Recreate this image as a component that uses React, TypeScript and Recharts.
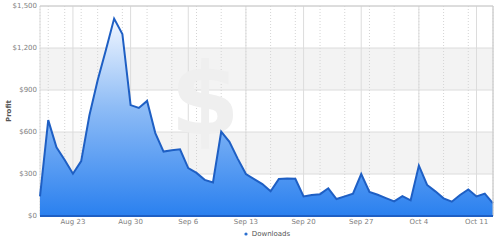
import React from "react";
import {
  ComposedChart,
  Area,
  XAxis,
  YAxis,
  CartesianGrid,
  Legend,
  ReferenceLine,
  Customized,
} from "recharts";

const dayLabels: string[] = [
  "Aug 19", "Aug 20", "Aug 21", "Aug 22", "Aug 23", "Aug 24", "Aug 25", "Aug 26", "Aug 27", "Aug 28",
  "Aug 29", "Aug 30", "Aug 31", "Sep 1", "Sep 2", "Sep 3", "Sep 4", "Sep 5", "Sep 6", "Sep 7",
  "Sep 8", "Sep 9", "Sep 10", "Sep 11", "Sep 12", "Sep 13", "Sep 14", "Sep 15", "Sep 16", "Sep 17",
  "Sep 18", "Sep 19", "Sep 20", "Sep 21", "Sep 22", "Sep 23", "Sep 24", "Sep 25", "Sep 26", "Sep 27",
  "Sep 28", "Sep 29", "Sep 30", "Oct 1", "Oct 2", "Oct 3", "Oct 4", "Oct 5", "Oct 6", "Oct 7",
  "Oct 8", "Oct 9", "Oct 10", "Oct 11", "Oct 12", "Oct 13",
];

const downloads: number[] = [
  140, 685, 490, 400, 302, 392, 720, 970, 1185, 1410,
  1300, 792, 772, 822, 592, 460, 470, 476, 342, 308,
  258, 240, 602, 530, 410, 300, 264, 228, 176, 265,
  268, 266, 140, 150, 156, 198, 121, 140, 160, 300,
  172, 152, 128, 104, 142, 112, 360, 222, 176, 126,
  102, 150, 190, 140, 160, 90,
];

const majorTickLabels: string[] = ["Aug 23", "Aug 30", "Sep 6", "Sep 13", "Sep 20", "Sep 27", "Oct 4", "Oct 11"];
const yTicks: number[] = [0, 300, 600, 900, 1200, 1500];

const data = dayLabels.map((label, i) => ({ i, label, downloads: downloads[i] }));
const majorTicks = majorTickLabels.map((l) => dayLabels.indexOf(l));
const allTicks = dayLabels.map((_, i) => i);
const lastIndex = dayLabels.length - 1;

const FONT = "'DejaVu Sans', Verdana, sans-serif";

const fmtY = (v: number) => "$" + v.toLocaleString("en-US");

const Watermark = () => (
  <text
    x={205}
    y={134}
    textAnchor="middle"
    fontFamily={FONT}
    fontWeight="bold"
    fontSize={100}
    fill="#efefef"
  >
    $
  </text>
);

const LegendContent = () => (
  <div
    style={{
      display: "flex",
      justifyContent: "center",
      alignItems: "center",
      fontFamily: FONT,
      fontSize: 7,
      color: "#555",
      paddingLeft: 40,
      height: 12,
    }}
  >
    <svg width={6} height={6} style={{ marginRight: 3 }}>
      <circle cx={3} cy={3} r={1.6} fill="#2a6fd0" />
    </svg>
    <span>Downloads</span>
  </div>
);

export default function App() {
  return (
    <div style={{ position: "absolute", left: 0, top: 0, width: 500, height: 241, background: "#fff" }}>
      <ComposedChart
        width={500}
        height={241}
        data={data}
        margin={{ top: 6, right: 7, bottom: 1, left: 0 }}
      >
        <defs>
          <linearGradient id="areaFill" x1="0" y1="0" x2="0" y2="1">
            <stop offset="0%" stopColor="#f2f7ff" />
            <stop offset="45%" stopColor="#8ebcf6" />
            <stop offset="100%" stopColor="#2a80ef" />
          </linearGradient>
        </defs>
        <CartesianGrid
          horizontal={true}
          vertical={false}
          stroke="#dcdcdc"
          fill="none"
          horizontalFill={["#ffffff", "#f3f3f3"]}
          fillOpacity={1}
        />
        <Customized component={Watermark} />
        <CartesianGrid
          xAxisId="minor"
          horizontal={false}
          vertical={true}
          stroke="#d4d4d4"
          strokeDasharray="1 2"
        />
        <CartesianGrid horizontal={false} vertical={true} stroke="#dcdcdc" />
        <XAxis
          xAxisId="minor"
          dataKey="i"
          type="number"
          domain={[0, lastIndex]}
          ticks={allTicks}
          hide
        />
        <XAxis
          dataKey="i"
          type="number"
          domain={[0, lastIndex]}
          ticks={majorTicks}
          tickFormatter={(v: number) => dayLabels[v]}
          tick={{ fontSize: 7, fill: "#808080", fontFamily: FONT }}
          tickLine={false}
          tickSize={0}
          axisLine={{ stroke: "#1e5fc4", strokeWidth: 2 }}
          height={12}
          tickMargin={3}
          interval={0}
        />
        <YAxis
          type="number"
          domain={[0, 1500]}
          ticks={yTicks}
          tickFormatter={fmtY}
          tick={{ fontSize: 7, fill: "#808080", fontFamily: FONT }}
          tickLine={false}
          tickSize={0}
          axisLine={false}
          width={40}
          tickMargin={3}
          interval={0}
          label={{
            value: "Profit",
            angle: -90,
            position: "insideLeft",
            offset: 9,
            style: { fontSize: 7, fill: "#555", fontFamily: FONT, fontWeight: "bold", textAnchor: "middle" },
          }}
        />
        <ReferenceLine x={lastIndex} stroke="#cccccc" />
        <ReferenceLine y={1500} stroke="#cccccc" />
        <Area
          type="linear"
          dataKey="downloads"
          name="Downloads"
          stroke="#1e5fc4"
          strokeWidth={2}
          fill="url(#areaFill)"
          fillOpacity={1}
          isAnimationActive={false}
          dot={false}
          activeDot={false}
        />
        <Legend verticalAlign="bottom" height={12} content={LegendContent} />
      </ComposedChart>
    </div>
  );
}
